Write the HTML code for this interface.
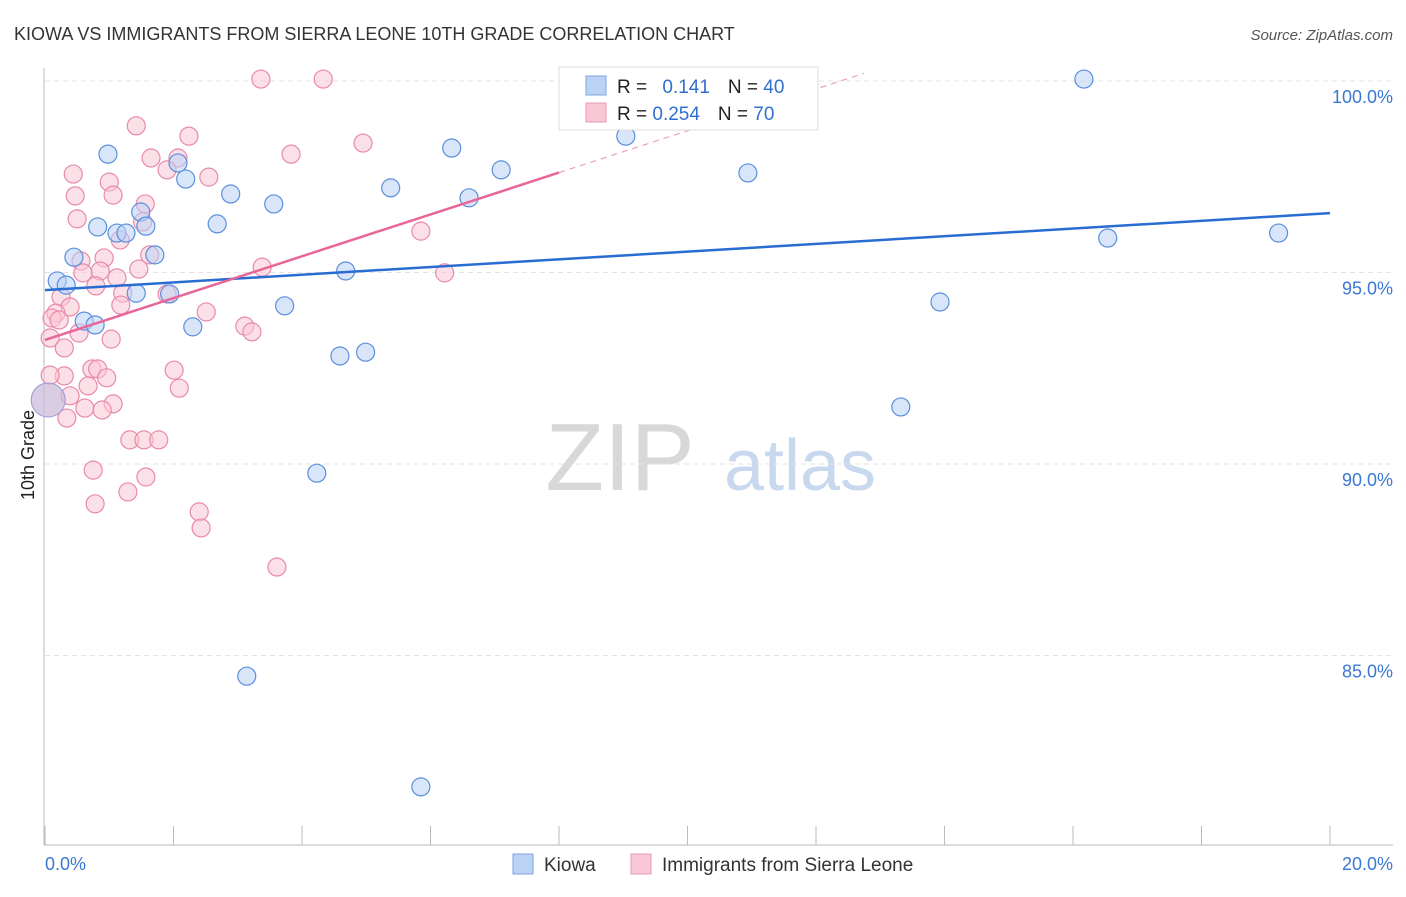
<!DOCTYPE html>
<html><head><meta charset="utf-8"><style>
body{margin:0;background:#fff;font-family:"Liberation Sans",sans-serif}
svg text{font-family:"Liberation Sans",sans-serif}
</style></head><body>
<svg id="c" width="1406" height="892">
<text x="14" y="40" font-size="18" fill="#333">KIOWA VS IMMIGRANTS FROM SIERRA LEONE 10TH GRADE CORRELATION CHART</text>
<text x="1393" y="40" font-size="15" fill="#555" font-style="italic" text-anchor="end">Source: ZipAtlas.com</text>
<text x="620" y="490" font-size="96" fill="#d8d8d8" font-family="Liberation Serif" text-anchor="middle">ZIP</text>
<text x="800" y="490" font-size="72" fill="#c8d8ef" text-anchor="middle">atlas</text>
<text transform="translate(34,455) rotate(-90)" font-size="18" fill="#222" text-anchor="middle">10th Grade</text>
<g id="grid"></g><g id="axes"></g><g id="pts"></g><g id="lines"></g>
<g>
<rect x="559" y="67" width="259" height="63" fill="#fff" stroke="#ddd"/>
<rect x="586" y="76" width="20" height="19" fill="#b9d2f5" stroke="#7ea6e0"/>
<rect x="586" y="103" width="20" height="19" fill="#f9c7d6" stroke="#eb9ab4"/>
<text x="617" y="93" font-size="19" fill="#222">R = <tspan fill="#2f6fd0" dx="10">0.141</tspan><tspan dx="18">N = </tspan><tspan fill="#2f6fd0">40</tspan></text>
<text x="617" y="120" font-size="19" fill="#222">R = <tspan fill="#2f6fd0">0.254</tspan><tspan dx="18">N = </tspan><tspan fill="#2f6fd0">70</tspan></text>
</g>
<g>
<rect x="513" y="854" width="20" height="20" fill="#b9d2f5" stroke="#7ea6e0"/>
<text x="544" y="871" font-size="19" fill="#333">Kiowa</text>
<rect x="631" y="854" width="20" height="20" fill="#f9c7d6" stroke="#eb9ab4"/>
<text x="662" y="871" font-size="19" fill="#333">Immigrants from Sierra Leone</text>
</g>
<text x="45" y="870" font-size="18" fill="#3a78d4">0.0%</text>
<text x="1393" y="870" font-size="18" fill="#3a78d4" text-anchor="end">20.0%</text>
</svg>
<script>
const yTicks=[100,95,90,85];
const yTickLabels=["100.0%","95.0%","90.0%","85.0%"];
const kiowaX=[0.98,9.07,16.17,9.04,6.33,7.10,2.07,2.19,5.38,6.60,10.94,2.89,3.56,2.68,0.82,1.49,1.57,1.12,1.26,1.71,0.45,0.19,0.33,1.42,1.94,4.68,3.73,13.93,0.61,0.78,2.30,4.59,4.99,16.54,19.20,13.32,4.23,3.14,5.85];
const kiowaY=[98.09,100.0,100.05,98.56,98.25,97.68,97.86,97.44,97.21,96.95,97.60,97.05,96.79,96.27,96.19,96.58,96.21,96.03,96.03,95.46,95.40,94.78,94.67,94.46,94.44,95.04,94.13,94.23,93.73,93.63,93.58,92.82,92.92,95.90,96.03,91.49,89.76,84.46,81.57];
const sierraX=[3.36,4.33,1.42,2.24,4.95,3.83,1.65,2.07,1.90,2.55,0.44,1.00,1.06,0.47,1.56,0.50,1.52,1.17,5.85,1.63,0.56,0.92,3.38,1.46,0.86,0.59,1.12,6.22,0.79,1.21,1.90,0.25,0.39,1.18,2.51,0.17,0.11,0.22,3.11,3.22,0.53,1.03,0.08,0.30,2.01,0.73,0.82,0.30,0.96,0.08,2.09,0.67,0.39,1.06,0.62,0.89,0.34,1.32,1.54,1.77,0.75,1.57,1.29,0.78,2.40,2.43,3.61];
const sierraY=[100.05,100.05,98.83,98.56,98.38,98.09,97.99,97.99,97.68,97.49,97.57,97.36,97.02,97.00,96.79,96.40,96.32,95.85,96.08,95.46,95.30,95.38,95.14,95.09,95.04,94.99,94.86,94.99,94.65,94.46,94.44,94.36,94.10,94.15,93.97,93.94,93.81,93.76,93.60,93.45,93.42,93.26,93.29,93.03,92.45,92.48,92.48,92.30,92.25,92.32,91.98,92.04,91.78,91.57,91.46,91.41,91.20,90.63,90.63,90.63,89.84,89.66,89.27,88.96,88.75,88.33,87.31];
const bigX=[0.05,0.05];const bigY=[91.67,91.67];
const kiowaLine=[94.54,0.1005];
const sierraLine=[93.24,0.546];
const sx=v=>45+v/20*1285, sy=v=>81+(100-v)*38.3;
const NS="http://www.w3.org/2000/svg";
function mk(p,t,a){const e=document.createElementNS(NS,t);for(const k in a)e.setAttribute(k,a[k]);p.appendChild(e);return e;}
const grid=document.getElementById('grid'),axes=document.getElementById('axes'),pts=document.getElementById('pts'),lines=document.getElementById('lines');
yTicks.forEach((t,i)=>{
 const g=mk(grid,'line',{x1:45,x2:1393,y1:sy(t),y2:sy(t),stroke:'#e3e3e3','stroke-dasharray':'5,4'});
 
 
 const l=mk(grid,'text',{x:1393,y:sy(t)+22,'font-size':18,fill:'#3a78d4','text-anchor':'end'});l.textContent=yTickLabels[i];
 
 
});
const ya=mk(axes,'line',{x1:44,x2:44,y1:68,y2:845,stroke:'#bbb'});


const xa=mk(axes,'line',{x1:44,x2:1393,y1:845,y2:845,stroke:'#bbb'});


for(let i=0;i<=10;i++){const t=mk(axes,'line',{x1:sx(i*2),x2:sx(i*2),y1:826,y2:845,stroke:'#bbb'});
 
 }
function dots(X,Y,fill,stroke,name,r){X.forEach((x,i)=>{const c=mk(pts,'circle',{cx:sx(x),cy:sy(Y[i]),r:r,fill:fill,'fill-opacity':0.55,stroke:stroke,'stroke-width':1.2});
 
 });}
dots(sierraX,sierraY,'#f9c7d6','#e88aa9','sierra-leone-point',9);
dots(kiowaX,kiowaY,'#b9d2f5','#5a8fdc','kiowa-point',9);
const bp=mk(pts,'circle',{cx:sx(bigX[0]),cy:sy(bigY[0]),r:17,fill:'#c9b8d8','fill-opacity':0.7,stroke:'#9a9ad0'});


const kl=mk(lines,'line',{x1:sx(0),y1:sy(kiowaLine[0]),x2:sx(20),y2:sy(kiowaLine[0]+kiowaLine[1]*20),stroke:'#2a6dd2','stroke-width':2.5});


const sl=mk(lines,'line',{x1:sx(0),y1:sy(sierraLine[0]),x2:sx(8),y2:sy(sierraLine[0]+sierraLine[1]*8),stroke:'#e8669a','stroke-width':2.5});


const xe=(100.2-sierraLine[0])/sierraLine[1];
const sd=mk(lines,'line',{x1:sx(8),y1:sy(sierraLine[0]+sierraLine[1]*8),x2:sx(xe),y2:sy(100.2),stroke:'#eaa0bb','stroke-width':1.2,'stroke-dasharray':'6,5'});


</script>
</body></html>
